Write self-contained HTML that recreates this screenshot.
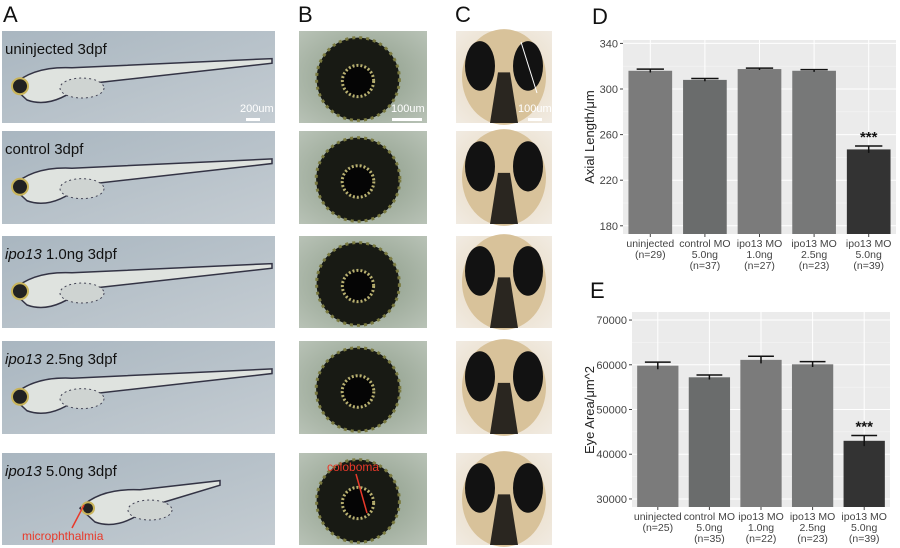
<!DOCTYPE html>
<html><head><meta charset="utf-8"><style>
html,body{margin:0;padding:0;background:#fff;}
svg{display:block;font-family:"Liberation Sans",Arial,sans-serif;}
</style></head><body>
<svg id="fig" width="900" height="548" viewBox="0 0 900 548">
<defs>
<linearGradient id="gA" x1="0" y1="0" x2="1" y2="1"><stop offset="0" stop-color="#a9b6c0"/><stop offset="1" stop-color="#c4ccd2"/></linearGradient>
<radialGradient id="gB" cx="0.5" cy="0.5" r="0.7"><stop offset="0" stop-color="#8a9a86"/><stop offset="1" stop-color="#b8c2b6"/></radialGradient>
<radialGradient id="gC" cx="0.5" cy="0.5" r="0.7"><stop offset="0" stop-color="#e6d6bb"/><stop offset="1" stop-color="#f1ebe2"/></radialGradient>
</defs>
<g id="photos"></g>
<g id="chartD"></g>
<g id="chartE"></g>
</svg>
<script>
// ---- chart data ----
const categoriesD = ["uninjected|(n=29)","control MO|5.0ng|(n=37)","ipo13 MO|1.0ng|(n=27)","ipo13 MO|2.5ng|(n=23)","ipo13 MO|5.0ng|(n=39)"];
const valuesD = [316, 308, 317.5, 316, 247];
const errorsD = [1.5, 1.2, 0.8, 1, 3];
const ticksD = [180, 220, 260, 300, 340];
const categoriesE = ["uninjected|(n=25)","control MO|5.0ng|(n=35)","ipo13 MO|1.0ng|(n=22)","ipo13 MO|2.5ng|(n=23)","ipo13 MO|5.0ng|(n=39)"];
const valuesE = [59800, 57200, 61100, 60100, 43000];
const errorsE = [800, 500, 800, 600, 1200];
const ticksE = [30000, 40000, 50000, 60000, 70000];
const barColors = ["#7b7b7b","#6a6c6c","#7b7b7b","#777878","#333333"];

const NS = "http://www.w3.org/2000/svg";
function mk(parent, tag, attrs, text){
  const e = document.createElementNS(NS, tag);
  for (const k in attrs) e.setAttribute(k, attrs[k]);
  if (text !== undefined) e.textContent = text;
  parent.appendChild(e); return e;
}

// ---- photo panels (approximations) ----
const P = document.getElementById('photos');
[["A",3,22],["B",298,22],["C",455,22],["D",592,24],["E",590,298]].forEach(([t,x,y])=>{
  const e = mk(P,'text',{x:x,y:y,'font-size':22,fill:'#111'},t);
  
  
});
const rows = [[31,123],[131,224],[236,328],[341,434],[453,545]];
const labelsA = [["","uninjected  3dpf"],["","control 3dpf"],["ipo13","1.0ng  3dpf"],["ipo13","2.5ng  3dpf"],["ipo13","5.0ng  3dpf"]];
rows.forEach(([y0,y1],i)=>{
  const h = y1-y0;
  const gA = mk(P,'g',{});
  
  
  mk(gA,'rect',{x:2,y:y0,width:273,height:h,fill:'url(#gA)'});
  const short = i===4;
  const hx = short?80:12, tail = short?220:272;
  mk(gA,'path',{d:`M${hx} ${y0+h*0.6} Q${hx+20} ${y0+h*0.38} ${hx+60} ${y0+h*0.4} L${tail} ${y0+h*0.3} L${tail} ${y0+h*0.35} L${hx+70} ${y0+h*0.58} Q${hx+40} ${y0+h*0.85} ${hx+15} ${y0+h*0.75} Z`,fill:'#dfe3df',stroke:'#334',"stroke-width":1.5});
  mk(gA,'ellipse',{cx:hx+70,cy:y0+h*0.62,rx:22,ry:10,fill:'#cfd4d2',stroke:'#445','stroke-width':1,'stroke-dasharray':'2 3'});
  mk(gA,'circle',{cx:hx+8,cy:y0+h*0.6,r:short?6:8,fill:'#222',stroke:'#c9b45a','stroke-width':2});
  const tA = mk(gA,'text',{x:5,y:y0+23,'font-size':15,fill:'#111'});
  if(labelsA[i][0]) mk(tA,'tspan',{'font-style':'italic'},labelsA[i][0]+' ');
  mk(tA,'tspan',{},labelsA[i][1]);
  const gB = mk(P,'g',{});
  
  
  mk(gB,'rect',{x:299,y:y0,width:128,height:h,fill:'url(#gB)'});
  mk(gB,'circle',{cx:358,cy:y0+h/2+2,r:h*0.45,fill:'#181a14',stroke:'#7a7a40','stroke-width':3,'stroke-dasharray':'3 4'});
  mk(gB,'circle',{cx:358,cy:y0+h/2+4,r:h*0.17,fill:'#050505',stroke:'#b8b070','stroke-width':3,'stroke-dasharray':'2 2'});
  const gC = mk(P,'g',{});
  
  
  mk(gC,'rect',{x:456,y:y0,width:96,height:h,fill:'url(#gC)'});
  mk(gC,'ellipse',{cx:504,cy:y0+h*0.5,rx:42,ry:h*0.52,fill:'#d8c29a'});
  mk(gC,'ellipse',{cx:480,cy:y0+h*0.38,rx:15,ry:h*0.27,fill:'#121212'});
  mk(gC,'ellipse',{cx:528,cy:y0+h*0.38,rx:15,ry:h*0.27,fill:'#121212'});
  mk(gC,'path',{d:`M498 ${y0+h*0.45} L510 ${y0+h*0.45} L518 ${y1} L490 ${y1} Z`,fill:'#2a2620'});
});
[[246,14,"200um",240],[392,30,"100um",391],[528,14,"100um",518]].forEach(([x,w,t,tx])=>{
  const s = mk(P,'rect',{x:x,y:118,width:w,height:3,fill:'#fff'});
  
  
  mk(P,'text',{x:tx,y:112,'font-size':11,fill:'#fff'},t);
});
mk(P,'line',{x1:521,y1:42,x2:537,y2:93,stroke:'#fff','stroke-width':1});
const m1 = mk(P,'text',{x:22,y:540,'font-size':12,fill:'#e8392a'},'microphthalmia');


mk(P,'line',{x1:72,y1:528,x2:84,y2:505,stroke:'#e8392a','stroke-width':1.5});
const m2 = mk(P,'text',{x:327,y:471,'font-size':12,fill:'#e8392a'},'coloboma');


mk(P,'line',{x1:356,y1:474,x2:367,y2:513,stroke:'#e8392a','stroke-width':1.5});

// ---- bar chart ----
function drawChart(gid, cats, vals, errs, ticks, box, dom, ytitle, ytitleY, fmt){
  const G = document.getElementById(gid);
  const [px0,py0,px1,py1] = box;
  const y = v => py1 - (v-dom[0])/(dom[1]-dom[0])*(py1-py0);
  const bw = (px1-px0)/cats.length;
  const x = i => px0 + bw*(i+0.5);
  const bg = mk(G,'rect',{x:px0,y:py0,width:px1-px0,height:py1-py0,fill:'#ebebeb'});
  
  
  ticks.forEach((t,i)=>{
    mk(G,'line',{x1:px0,x2:px1,y1:y(t),y2:y(t),stroke:'#fff','stroke-width':1});
    if(i<ticks.length-1) mk(G,'line',{x1:px0,x2:px1,y1:y((t+ticks[i+1])/2),y2:y((t+ticks[i+1])/2),stroke:'#f5f5f5','stroke-width':0.6});
    mk(G,'line',{x1:px0-3,x2:px0,y1:y(t),y2:y(t),stroke:'#444'});
    const tl = mk(G,'text',{x:px0-5,y:y(t)+4,'font-size':11,fill:'#444','text-anchor':'end'},fmt(t));
    
    
  });
  cats.forEach((c,i)=>mk(G,'line',{x1:x(i),x2:x(i),y1:py0,y2:py1,stroke:'#fff','stroke-width':1}));
  cats.forEach((c,i)=>{
    const b = mk(G,'rect',{x:x(i)-bw*0.4,y:y(vals[i]),width:bw*0.8,height:py1-y(vals[i]),fill:barColors[i]});
    
    
    const e = mk(G,'path',{d:`M${x(i)-bw*0.25} ${y(vals[i]+errs[i])} H${x(i)+bw*0.25} M${x(i)} ${y(vals[i]+errs[i])} V${y(vals[i]-errs[i])}`,stroke:'#111','stroke-width':1.5,fill:'none'});
    
    
    mk(G,'line',{x1:x(i),x2:x(i),y1:py1,y2:py1+3,stroke:'#444'});
    c.split('|').forEach((ln,k)=>{
      const t = mk(G,'text',{x:x(i),y:py1+13+k*11,'font-size':10.5,fill:'#444','text-anchor':'middle'},ln);
      
      
    });
  });
  const last = cats.length-1;
  const st = mk(G,'text',{x:x(last),y:y(vals[last]+errs[last])-4,'font-size':15,'font-weight':'bold',fill:'#111','text-anchor':'middle'},'***');
  
  
  const yt = mk(G,'text',{x:0,y:0,'font-size':13,fill:'#222','text-anchor':'middle',transform:`translate(594,${ytitleY}) rotate(-90)`},ytitle);
  
  
}
drawChart('chartD',categoriesD,valuesD,errorsD,ticksD,[623,40,896,234],[172.8,343],'Axial Length/μm',137,t=>String(t));
drawChart('chartE',categoriesE,valuesE,errorsE,ticksE,[632,312,890,507],[28200,71800],'Eye Area/μm^2',410,t=>String(t));
</script>
</body></html>
